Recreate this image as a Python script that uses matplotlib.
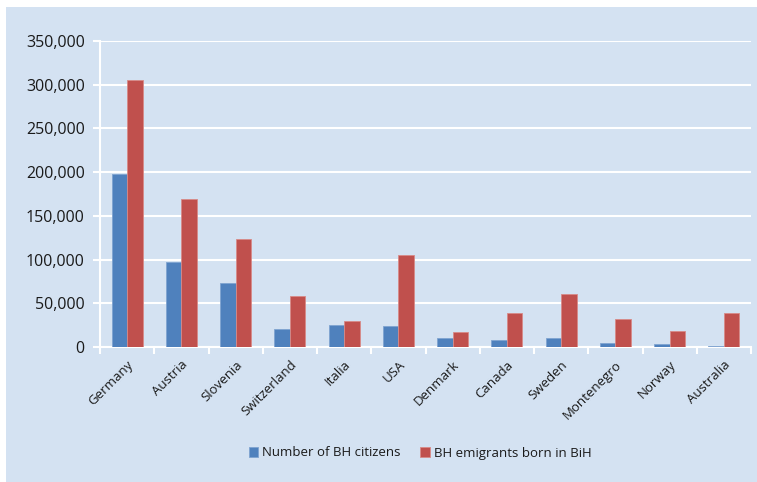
import matplotlib
matplotlib.use("Agg")
import matplotlib.pyplot as plt
from matplotlib.patches import FancyBboxPatch, Rectangle
import numpy as np

countries = ["Germany", "Austria", "Slovenia", "Switzerland", "Italia", "USA",
             "Denmark", "Canada", "Sweden", "Montenegro", "Norway", "Australia"]
citizens = [198000, 97000, 73000, 20500, 25000, 24000, 10000, 8000, 10000, 5000, 4000, 1000]
emigrants = [305000, 169000, 123000, 58000, 30000, 105000, 17000, 39000, 61000, 32000, 18000, 39000]
yticks = [0, 50000, 100000, 150000, 200000, 250000, 300000, 350000]
series_names = ["Number of BH citizens", "BH emigrants born in BiH"]

BG = "#D4E2F2"
BLUE = "#4F81BD"
RED = "#C0504D"

plt.rcParams['font.family'] = ['Open Sans', 'DejaVu Sans']

fig = plt.figure(figsize=(7.57, 4.82), dpi=100)
fig.patch.set_facecolor("white")

bgax = fig.add_axes([0, 0, 1, 1], zorder=-10)
bgax.set_xlim(0, 757)
bgax.set_ylim(482, 0)
bgax.axis("off")
bgax.add_patch(Rectangle((6, 7), 720, 480, facecolor=BG, edgecolor="none"))
bgax.add_patch(FancyBboxPatch((600, 7), 200, 480, boxstyle="round,pad=0,rounding_size=14",
                              facecolor=BG, edgecolor="none"))

ax = fig.add_axes([100/757, 1 - 347/482, 651/757, 306/482])
ax.set_facecolor(BG)
x = np.arange(len(countries))
w = 0.286
ax.bar(x - w/2, citizens, w, color=BLUE, edgecolor="#7FA3D0", linewidth=0.6, label=series_names[0], zorder=3)
ax.bar(x + w/2, emigrants, w, color=RED, edgecolor="#D88A88", linewidth=0.6, label=series_names[1], zorder=3)

ax.set_xlim(-0.5, len(countries) - 0.5)
ax.set_ylim(0, 350000)
ax.set_yticks(yticks)
ax.set_yticklabels([f"{v:,}" for v in yticks], fontsize=11.5, color="#1a1a1a")
ax.yaxis.grid(True, color="white", linewidth=1.5, zorder=1)
ax.set_axisbelow(True)

ax.set_xticks(x)
ax.set_xticklabels(countries, rotation=45, ha="right", rotation_mode="anchor", fontsize=9.5, color="#1a1a1a")
ax.set_xticks(np.arange(len(countries) + 1) - 0.5, minor=True)
ax.tick_params(axis="x", which="major", length=0, pad=8)
ax.tick_params(axis="x", which="minor", length=5, color="white", width=1.5)
ax.tick_params(axis="y", length=5, color="white", width=1.5, pad=6)

for s in ["top", "right"]:
    ax.spines[s].set_visible(False)
for s in ["left", "bottom"]:
    ax.spines[s].set_color("white")
    ax.spines[s].set_linewidth(1.5)

leg = fig.legend(loc="center", bbox_to_anchor=(420/757, 1 - 453/482), ncol=2, frameon=False,
                 fontsize=9.5, handlelength=0.7, handleheight=0.7, handletextpad=0.3, columnspacing=1.5)
for t in leg.get_texts():
    t.set_color("#1a1a1a")

fig.savefig("out.png", dpi=100, facecolor=fig.get_facecolor())
